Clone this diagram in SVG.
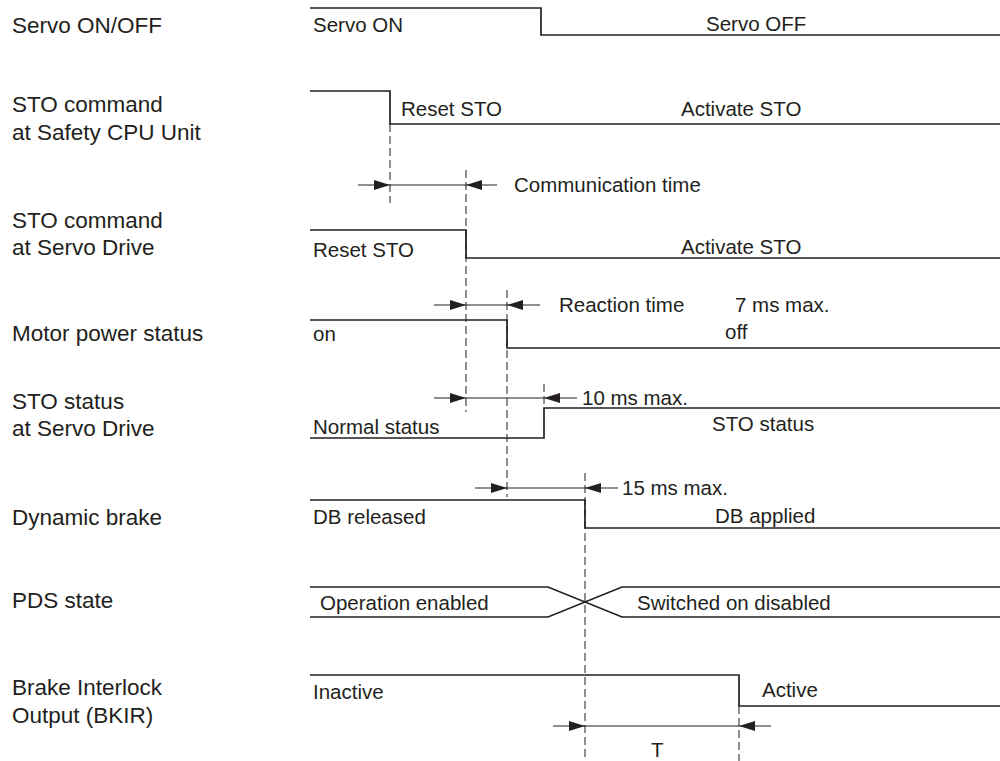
<svg xmlns="http://www.w3.org/2000/svg" width="1000" height="761" viewBox="0 0 1000 761">
<style>
text{font-family:"Liberation Sans",Arial,sans-serif;fill:#231f20}
.lbl{font-size:22.5px}
.t{font-size:20.5px}
.w{fill:none;stroke:#231f20;stroke-width:1.7}
.d{fill:none;stroke:#231f20;stroke-width:1;stroke-dasharray:8,4}
.m{fill:none;stroke:#231f20;stroke-width:1}
.a{fill:none;stroke:#231f20;stroke-width:1;marker-end:url(#ah)}
</style>
<defs>
<marker id="ah" markerUnits="userSpaceOnUse" markerWidth="17" markerHeight="12" refX="16" refY="6" orient="auto">
<path d="M0,1 L16,6 L0,11 Z" fill="#231f20"/>
</marker>
</defs>
<rect width="1000" height="761" fill="#fff"/>
<g id="labels">
<text class="lbl" x="12" y="33">Servo ON/OFF</text>
<text class="lbl" x="12" y="112">STO command</text>
<text class="lbl" x="12" y="140">at Safety CPU Unit</text>
<text class="lbl" x="12" y="228">STO command</text>
<text class="lbl" x="12" y="255">at Servo Drive</text>
<text class="lbl" x="12" y="341">Motor power status</text>
<text class="lbl" x="12" y="409">STO status</text>
<text class="lbl" x="12" y="436">at Servo Drive</text>
<text class="lbl" x="12" y="525">Dynamic brake</text>
<text class="lbl" x="12" y="608">PDS state</text>
<text class="lbl" x="12" y="695">Brake Interlock</text>
<text class="lbl" x="12" y="723">Output (BKIR)</text>
</g>
<g id="servo">
<path class="w" d="M310,8 H541 V35 H1000"/>
<text class="t" x="313" y="32">Servo ON</text>
<text class="t" x="706" y="31">Servo OFF</text>
</g>
<g id="sto-cpu">
<path class="w" d="M310,91 H390 V124 H1000"/>
<text class="t" x="401" y="116">Reset STO</text>
<text class="t" x="681" y="116">Activate STO</text>
</g>
<g id="sto-drive">
<path class="w" d="M310,230 H466 V258 H1000"/>
<text class="t" x="313" y="257">Reset STO</text>
<text class="t" x="681" y="254">Activate STO</text>
</g>
<g id="motor">
<path class="w" d="M310,320 H507 V348 H1000"/>
<text class="t" x="313" y="341">on</text>
<text class="t" x="725" y="339">off</text>
</g>
<g id="sto-status">
<path class="w" d="M310,438 H544 V408 H1000"/>
<text class="t" x="313" y="434">Normal status</text>
<text class="t" x="712" y="431">STO status</text>
</g>
<g id="db">
<path class="w" d="M310,500 H585 V528 H1000"/>
<text class="t" x="313" y="524">DB released</text>
<text class="t" x="715" y="523">DB applied</text>
</g>
<g id="pds">
<path class="w" d="M310,587 H548 L622,617 H1000 M310,617 H548 L622,587 H1000"/>
<text class="t" x="320" y="610">Operation enabled</text>
<text class="t" x="637" y="610">Switched on disabled</text>
</g>
<g id="bkir">
<path class="w" d="M310,675 H739 V706 H1000"/>
<text class="t" x="313" y="699">Inactive</text>
<text class="t" x="762" y="697">Active</text>
</g>
<g id="connectors">
<path class="d" d="M390,124 V203 M466,170 V412 M507,290 V497 M544,384 V408 M585,473 V761 M739,706 V761"/>
<path class="a" d="M358,185 H390"/>
<path class="m" d="M390,185 H466"/>
<path class="a" d="M497,185 H466"/>
<path class="a" d="M434,305 H466"/>
<path class="m" d="M466,305 H507"/>
<path class="a" d="M540,305 H507"/>
<path class="a" d="M434,398 H466"/>
<path class="m" d="M466,398 H544"/>
<path class="a" d="M577,398 H544"/>
<path class="a" d="M475,488 H507"/>
<path class="m" d="M507,488 H585"/>
<path class="a" d="M618,488 H585"/>
<path class="a" d="M553,726 H585"/>
<path class="m" d="M585,726 H739"/>
<path class="a" d="M771,726 H739"/>
</g>
<g id="annotations">
<text class="t" x="514" y="192">Communication time</text>
<text class="t" x="559" y="312">Reaction time</text>
<text class="t" x="735" y="312">7 ms max.</text>
<text class="t" x="582" y="405">10 ms max.</text>
<text class="t" x="622" y="495">15 ms max.</text>
<text class="t" x="651" y="757">T</text>
</g>
</svg>
